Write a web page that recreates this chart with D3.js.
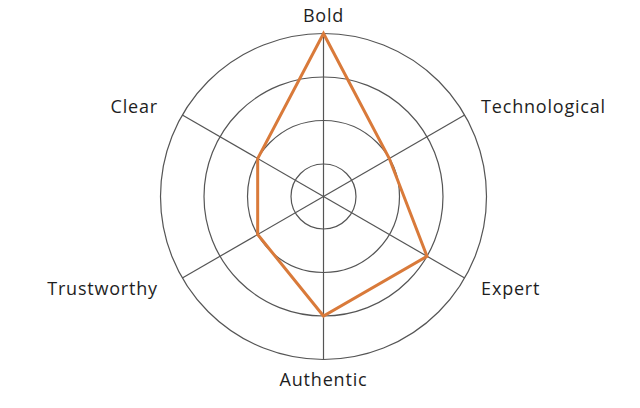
<!DOCTYPE html>
<html>
<head>
<meta charset="utf-8">
<script src="https://cdn.jsdelivr.net/npm/d3@7"></script>
<style>
  html, body { margin: 0; padding: 0; background: #fff; }
  svg { display: block; }
  text { font-family: "Open Sans", sans-serif; font-size: 18px; fill: #1e1e1e; letter-spacing: 0.8px; }
</style>
</head>
<body>
<svg id="chart" width="640" height="408"></svg>
<script>
const categories = ["Bold", "Technological", "Expert", "Authentic", "Trustworthy", "Clear"];
const values = [4, 2, 3, 3, 2, 2];
const levels = [1, 2, 3, 4];

const W = 640, H = 408;
const cx = 323.5, cy = 196.5;
const innerR = 32.5, outerR = 163;
const labelR = 182;

const svg = d3.select("#chart");
const g = svg.append("g").attr("transform", `translate(${cx},${cy})`);

const r = d3.scaleLinear().domain([1, 4]).range([innerR, outerR]);
const angle = d3.scaleLinear().domain([0, categories.length]).range([0, 2 * Math.PI]);

// circles
g.selectAll("circle.level").data(levels).enter().append("circle")
  .attr("class", "level")
  .attr("r", d => r(d))
  .attr("fill", "none")
  .attr("stroke", "#555")
  .attr("stroke-width", 1.2);

// axes
g.selectAll("line.axis").data(categories).enter().append("line")
  .attr("class", "axis")
  .attr("x1", 0).attr("y1", 0)
  .attr("x2", (d, i) => r(4) * Math.sin(angle(i)))
  .attr("y2", (d, i) => -r(4) * Math.cos(angle(i)))
  .attr("stroke", "#555")
  .attr("stroke-width", 1.2);

// polygon
const line = d3.lineRadial()
  .angle((d, i) => angle(i))
  .radius(d => r(d))
  .curve(d3.curveLinearClosed);

g.append("path")
  .datum(values)
  .attr("d", line)
  .attr("fill", "none")
  .attr("stroke", "#d97a3a")
  .attr("stroke-width", 3)
  .attr("stroke-linejoin", "miter");

// labels
g.selectAll("text.label").data(categories).enter().append("text")
  .attr("class", "label")
  .attr("x", (d, i) => {
    const s = Math.sin(angle(i));
    const x = labelR * s;
    if (s < -0.1) return x - 8;
    return x;
  })
  .attr("y", (d, i) => -labelR * Math.cos(angle(i)) + 1)
  .attr("dy", "0.35em")
  .attr("text-anchor", (d, i) => {
    const s = Math.sin(angle(i));
    return Math.abs(s) < 0.1 ? "middle" : (s > 0 ? "start" : "end");
  })
  .text(d => d);
</script>
</body>
</html>
